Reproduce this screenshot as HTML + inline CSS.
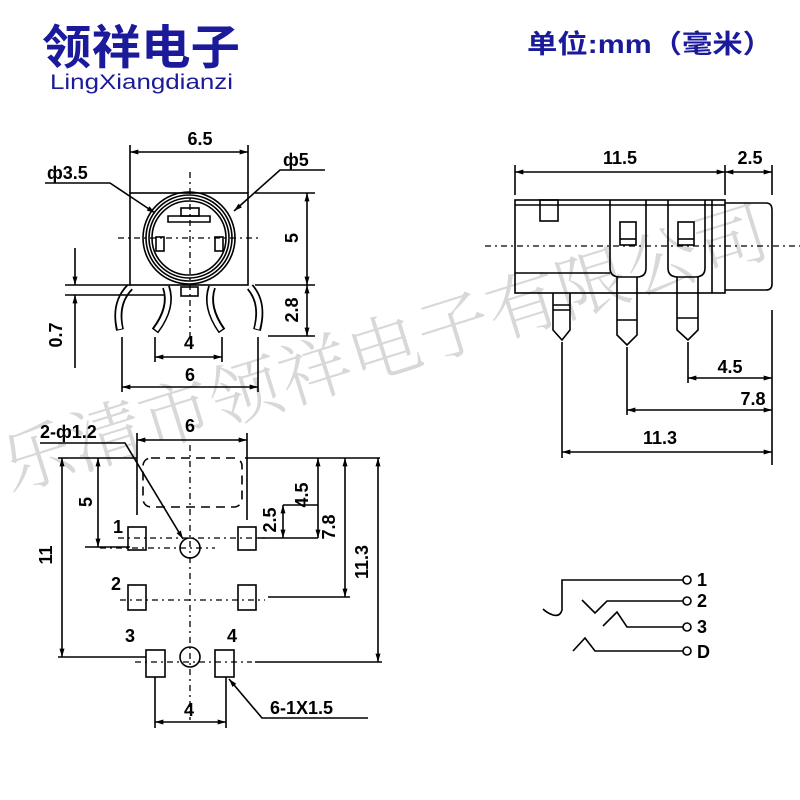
<!DOCTYPE html>
<html><head><meta charset="utf-8"><style>
html,body{margin:0;padding:0;background:#fff;width:800px;height:800px;overflow:hidden}
svg{display:block}
.t{font-family:"Liberation Sans",Arial,sans-serif;font-weight:bold;fill:#000}
</style></head><body>
<svg width="800" height="800" viewBox="0 0 800 800" xmlns="http://www.w3.org/2000/svg">
<defs>
<marker id="a" viewBox="0 0 10 6" refX="10" refY="3" markerWidth="10" markerHeight="5" orient="auto-start-reverse" markerUnits="userSpaceOnUse"><path d="M0,0 L10,3 L0,6 z" fill="#000"/></marker>
</defs>
<!-- watermark -->
<text x="10" y="492" transform="rotate(-17.4 10 492)" font-family="'Noto Serif CJK SC',serif" font-size="70" fill="#d8d8d8" font-weight="300" textLength="800" lengthAdjust="spacingAndGlyphs">乐清市领祥电子有限公司</text>

<!-- header -->
<text x="42" y="64" font-family="'Noto Sans CJK SC',sans-serif" font-weight="bold" font-size="47" fill="#1a1a9a" textLength="198" lengthAdjust="spacingAndGlyphs">领祥电子</text>
<text x="50" y="89" font-family="'Liberation Sans',sans-serif" font-size="21" fill="#1a1a9a" textLength="183" lengthAdjust="spacingAndGlyphs">LingXiangdianzi</text>
<text x="527" y="53" font-family="'Liberation Sans','Noto Sans CJK SC',sans-serif" font-weight="bold" font-size="26" fill="#1a1a9a" textLength="246" lengthAdjust="spacingAndGlyphs">单位:mm（毫米）</text>

<g stroke="#000" stroke-width="1.6" fill="none">
<!-- ===== top-left view ===== -->
<rect x="130" y="193" width="118" height="92"/>
<circle cx="189" cy="238" r="46"/><circle cx="189" cy="238" r="43"/><circle cx="189" cy="238" r="40"/><circle cx="189" cy="238" r="37"/>
<rect x="181" y="208" width="18" height="8"/>
<path d="M168,216 H210 V222 H168 Z"/>
<rect x="156" y="237" width="8" height="14"/><rect x="215" y="237" width="8" height="14"/>
<rect x="181" y="287" width="17" height="9"/>
<line x1="118" y1="238" x2="262" y2="238" stroke-dasharray="6,4,2,4" stroke-width="1.3"/>
<line x1="190" y1="172" x2="190" y2="340" stroke-dasharray="6,4,2,4" stroke-width="1.3"/>
<!-- legs -->
<g stroke-width="8" stroke-linecap="butt"><path d="M130,287 Q114,303 120,330"/><path d="M166,287 Q173,307 155,331"/><path d="M212,287 Q205,307 222,331"/><path d="M250,287 Q264,303 257,330"/></g>
<g stroke="#fff" stroke-width="4.5"><path d="M130,287 Q114,303 120,329"/><path d="M166,287 Q173,307 156,330"/><path d="M212,287 Q205,307 221,330"/><path d="M250,287 Q264,303 257,329"/></g>
<!-- dims -->
<line x1="130" y1="145" x2="130" y2="193"/><line x1="248" y1="145" x2="248" y2="193"/>
<line x1="130" y1="152" x2="248" y2="152" marker-start="url(#a)" marker-end="url(#a)"/>
<path d="M45,183 H110 L155,213" marker-end="url(#a)"/>
<path d="M325,170 H280 L234,211" marker-end="url(#a)"/>
<line x1="255" y1="193" x2="315" y2="193"/><line x1="255" y1="285" x2="315" y2="285"/><line x1="268" y1="336" x2="315" y2="336"/>
<line x1="307" y1="193" x2="307" y2="285" marker-start="url(#a)" marker-end="url(#a)"/>
<line x1="307" y1="285" x2="307" y2="336" marker-start="url(#a)" marker-end="url(#a)"/>
<line x1="65" y1="285" x2="130" y2="285"/><line x1="65" y1="295" x2="165" y2="295"/>
<line x1="75" y1="248" x2="75" y2="285" marker-end="url(#a)"/>
<line x1="75" y1="368" x2="75" y2="295" marker-end="url(#a)"/>
<line x1="155" y1="337" x2="155" y2="362"/><line x1="222" y1="337" x2="222" y2="362"/>
<line x1="155" y1="357" x2="222" y2="357" marker-start="url(#a)" marker-end="url(#a)"/>
<line x1="122" y1="337" x2="122" y2="392"/><line x1="258" y1="337" x2="258" y2="392"/>
<line x1="122" y1="387" x2="258" y2="387" marker-start="url(#a)" marker-end="url(#a)"/>

<!-- ===== bottom-left view ===== -->
<rect x="143" y="458" width="99" height="49" rx="8" stroke-dasharray="9,6"/>
<line x1="137" y1="433" x2="137" y2="515"/><line x1="247" y1="433" x2="247" y2="520"/>
<line x1="137" y1="440" x2="247" y2="440" marker-start="url(#a)" marker-end="url(#a)"/>
<line x1="58" y1="458" x2="137" y2="458"/><line x1="245" y1="458" x2="380" y2="458"/>
<rect x="128" y="527" width="18" height="23"/><rect x="238" y="527" width="18" height="23"/>
<rect x="128" y="585" width="18" height="25"/><rect x="238" y="585" width="18" height="25"/>
<rect x="146" y="650" width="19" height="27"/><rect x="215" y="650" width="19" height="27"/>
<circle cx="190" cy="548" r="10"/><circle cx="190" cy="657" r="10"/>
<g stroke-dasharray="6,4,2,4" stroke-width="1.3">
<line x1="190" y1="445" x2="190" y2="720"/>
<line x1="118" y1="538" x2="265" y2="538"/><line x1="120" y1="600" x2="265" y2="600"/><line x1="135" y1="662" x2="252" y2="662"/><line x1="100" y1="548" x2="215" y2="548"/>
</g>
<path d="M40,443 H125 L183,539" marker-end="url(#a)"/>
<line x1="85" y1="547" x2="130" y2="547"/>
<line x1="98" y1="458" x2="98" y2="547" marker-start="url(#a)" marker-end="url(#a)"/>
<line x1="58" y1="657" x2="146" y2="657"/>
<line x1="62" y1="458" x2="62" y2="657" marker-start="url(#a)" marker-end="url(#a)"/>
<line x1="258" y1="538" x2="318" y2="538"/><line x1="283" y1="505" x2="318" y2="505"/>
<line x1="283" y1="505" x2="283" y2="538" marker-start="url(#a)" marker-end="url(#a)"/>
<line x1="318" y1="458" x2="318" y2="538" marker-start="url(#a)" marker-end="url(#a)"/>
<line x1="268" y1="597" x2="350" y2="597"/>
<line x1="345" y1="458" x2="345" y2="597" marker-start="url(#a)" marker-end="url(#a)"/>
<line x1="255" y1="662" x2="382" y2="662"/>
<line x1="378" y1="458" x2="378" y2="662" marker-start="url(#a)" marker-end="url(#a)"/>
<path d="M368,718 H262 L229,679" marker-end="url(#a)"/>
<line x1="155" y1="677" x2="155" y2="728"/><line x1="226" y1="677" x2="226" y2="728"/>
<line x1="155" y1="722" x2="226" y2="722" marker-start="url(#a)" marker-end="url(#a)"/>

<!-- ===== right side view ===== -->
<rect x="515" y="200" width="210" height="93"/>
<path d="M725,203 H766 Q772,203 772,210 V284 Q772,290 766,290 H725"/>
<line x1="515" y1="205" x2="725" y2="205"/>
<line x1="515" y1="273" x2="610" y2="273"/>
<rect x="540" y="200" width="18" height="21"/>
<path d="M610,200 V268 Q610,277 620,277 H637 Q646,277 646,268 V200"/>
<path d="M668,200 V268 Q668,277 678,277 H695 Q705,277 705,268 V200"/>
<line x1="712" y1="200" x2="712" y2="293"/>
<rect x="620" y="222" width="16" height="23"/><rect x="678" y="222" width="16" height="23"/>
<line x1="620" y1="239" x2="636" y2="239"/><line x1="678" y1="239" x2="694" y2="239"/>
<path d="M553,293 V330 L562,340 L570,330 V293"/><line x1="553" y1="305" x2="570" y2="305"/><line x1="553" y1="310" x2="570" y2="310"/>
<path d="M617,277 V335 L627,345 L637,335 V277"/><line x1="617" y1="320" x2="637" y2="320"/>
<path d="M677,277 V330 L688,340 L698,330 V277"/><line x1="677" y1="318" x2="698" y2="318"/>
<line x1="485" y1="246" x2="800" y2="246" stroke-dasharray="6,4,2,4" stroke-width="1.3"/>
<line x1="515" y1="165" x2="515" y2="195"/><line x1="725" y1="165" x2="725" y2="195"/><line x1="772" y1="165" x2="772" y2="195"/>
<line x1="515" y1="172" x2="725" y2="172" marker-start="url(#a)" marker-end="url(#a)"/>
<line x1="725" y1="172" x2="772" y2="172" marker-start="url(#a)" marker-end="url(#a)"/>
<line x1="772" y1="310" x2="772" y2="465"/>
<line x1="688" y1="342" x2="688" y2="383"/><line x1="627" y1="347" x2="627" y2="415"/><line x1="562" y1="342" x2="562" y2="458"/>
<line x1="688" y1="378" x2="772" y2="378" marker-start="url(#a)" marker-end="url(#a)"/>
<line x1="627" y1="410" x2="772" y2="410" marker-start="url(#a)" marker-end="url(#a)"/>
<line x1="562" y1="452" x2="772" y2="452" marker-start="url(#a)" marker-end="url(#a)"/>

<!-- schematic -->
<path d="M683,580 H562 V610 Q560,617 553,615 Q547,613 543,609"/>
<path d="M683,601 H607 L595,613 L582,600"/>
<path d="M683,627 H627 L617,612 L603,626"/>
<path d="M683,651 H595 L585,638 L573,651"/>
<circle cx="687" cy="580" r="4"/><circle cx="687" cy="601" r="4"/><circle cx="687" cy="627" r="4"/><circle cx="687" cy="651" r="4"/>
</g>

<!-- labels -->
<g class="t" font-size="18">
<text x="200" y="145" text-anchor="middle">6.5</text>
<text x="47" y="179">ф3.5</text>
<text x="283" y="166">ф5</text>
<text transform="translate(298,238) rotate(-90)" text-anchor="middle">5</text>
<text transform="translate(298,310) rotate(-90)" text-anchor="middle">2.8</text>
<text transform="translate(62,335) rotate(-90)" text-anchor="middle">0.7</text>
<text x="189" y="349" text-anchor="middle">4</text>
<text x="190" y="381" text-anchor="middle">6</text>
<text x="190" y="432" text-anchor="middle">6</text>
<text x="40" y="438">2-ф1.2</text>
<text transform="translate(92,502) rotate(-90)" text-anchor="middle">5</text>
<text transform="translate(52,555) rotate(-90)" text-anchor="middle">11</text>
<text transform="translate(276,520) rotate(-90)" text-anchor="middle">2.5</text>
<text transform="translate(308,495) rotate(-90)" text-anchor="middle">4.5</text>
<text transform="translate(335,527) rotate(-90)" text-anchor="middle">7.8</text>
<text transform="translate(368,562) rotate(-90)" text-anchor="middle">11.3</text>
<text x="113" y="533">1</text>
<text x="111" y="590">2</text>
<text x="125" y="642">3</text>
<text x="227" y="642">4</text>
<text x="189" y="716" text-anchor="middle">4</text>
<text x="270" y="714">6-1X1.5</text>
<text x="620" y="164" text-anchor="middle">11.5</text>
<text x="750" y="164" text-anchor="middle">2.5</text>
<text x="730" y="373" text-anchor="middle">4.5</text>
<text x="753" y="405" text-anchor="middle">7.8</text>
<text x="660" y="444" text-anchor="middle">11.3</text>
<text x="697" y="586">1</text>
<text x="697" y="607">2</text>
<text x="697" y="633">3</text>
<text x="697" y="658">D</text>
</g>
</svg>
</body></html>
